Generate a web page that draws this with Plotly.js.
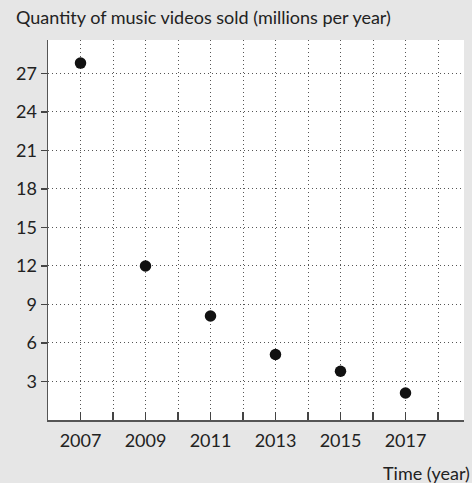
<!DOCTYPE html>
<html>
<head>
<meta charset="utf-8">
<script src="https://cdn.plot.ly/plotly-3.0.1.min.js"></script>
<style>html,body{margin:0;padding:0;background:#e6e6e6;}</style>
</head>
<body>
<div id="chart" style="width:472px;height:483px;"></div>
<script>
var years = [2007, 2009, 2011, 2013, 2015, 2017];
var quantity = [27.8, 12.0, 8.1, 5.1, 3.8, 2.1];
var xTickVals = [2007, 2008, 2009, 2010, 2011, 2012, 2013, 2014, 2015, 2016, 2017, 2018];
var xTickText = ['2007', '', '2009', '', '2011', '', '2013', '', '2015', '', '2017', ''];
var yTickVals = [3, 6, 9, 12, 15, 18, 21, 24, 27];
var titleText = 'Quantity of music videos sold (millions per year)';
var xTitleText = 'Time (year)';

var font = 'Lato, "Open Sans", "DejaVu Sans", sans-serif';

var trace = {
  x: years, y: quantity, type: 'scatter', mode: 'markers',
  marker: {color: '#111111', size: 11.5},
  hoverinfo: 'none', showlegend: false
};

var layout = {
  width: 472, height: 483,
  margin: {l: 48, r: 8, t: 40, b: 63},
  paper_bgcolor: '#e6e6e6',
  plot_bgcolor: '#ffffff',
  font: {family: font, size: 18, color: '#222222'},
  xaxis: {
    range: [2006, 2018.8],
    tickmode: 'array', tickvals: xTickVals, ticktext: xTickText,
    ticks: 'inside', ticklen: 8, tickwidth: 1.5, tickcolor: '#444444',
    showgrid: true, griddash: '1px,3px', gridcolor: '#555555', gridwidth: 1,
    showline: true, linecolor: '#555555', linewidth: 1.5,
    zeroline: false, ticklabelstandoff: 4,
    tickfont: {family: font, size: 18, color: '#222222'}
  },
  yaxis: {
    range: [0, 29.6],
    tickmode: 'array', tickvals: yTickVals,
    ticks: 'outside', ticklen: 6, tickwidth: 1.5, tickcolor: '#444444',
    showgrid: true, griddash: '1px,3px', gridcolor: '#555555', gridwidth: 1,
    showline: true, linecolor: '#555555', linewidth: 1.5,
    zeroline: false,
    tickfont: {family: font, size: 18, color: '#222222'}
  },
  annotations: [
    {text: titleText, xref: 'paper', yref: 'paper', x: -0.082, y: 1.027,
     xanchor: 'left', yanchor: 'bottom', showarrow: false,
     font: {family: font, size: 18, color: '#222222'}},
    {text: xTitleText, xref: 'paper', yref: 'paper', x: 1.02, y: -0.105,
     xanchor: 'right', yanchor: 'top', showarrow: false,
     font: {family: font, size: 18, color: '#222222'}}
  ]
};

Plotly.newPlot('chart', [trace], layout, {displayModeBar: false, staticPlot: true});
</script>
</body>
</html>
